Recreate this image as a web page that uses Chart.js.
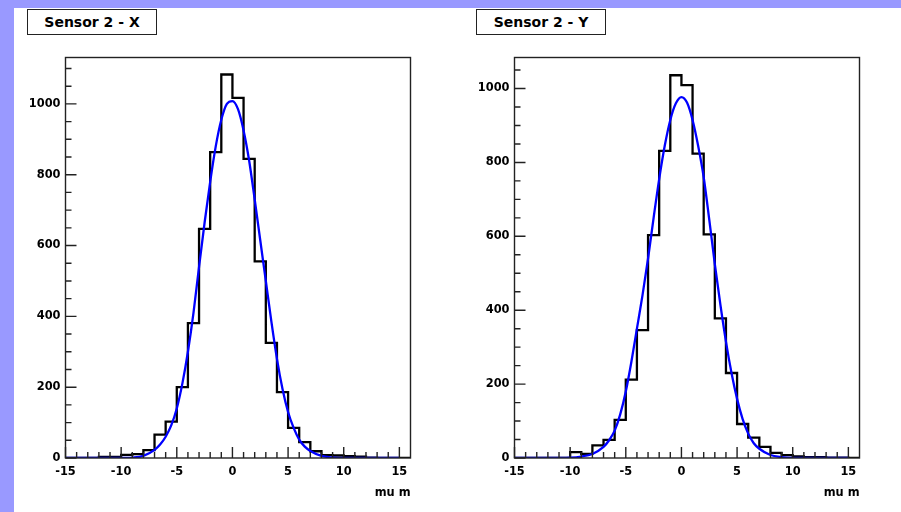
<!DOCTYPE html>
<html>
<head>
<meta charset="utf-8">
<script src="https://cdn.jsdelivr.net/npm/chart.js@4.4.1/dist/chart.umd.min.js"></script>
<style>
  html, body { margin: 0; padding: 0; }
  body { width: 901px; height: 512px; background: #9999ff; position: relative; overflow: hidden; }
  #sheet { position: absolute; left: 14px; top: 8px; right: 0; bottom: 0; background: #fff; }
  canvas { position: absolute; top: 0; }
  .tag {
    position: absolute; top: 9px; width: 128px; height: 24px;
    border: 1px solid #222; background: #fff;
    font: bold 14px 'DejaVu Sans', sans-serif; color: #000;
    text-align: center; line-height: 24px;
  }
</style>
</head>
<body>
<div id="sheet"></div>
<canvas id="sensorX" width="450" height="512" style="left:0px"></canvas>
<canvas id="sensorY" width="450" height="512" style="left:449px"></canvas>
<div class="tag" style="left:27px">Sensor 2 - X</div>
<div class="tag" style="left:476px">Sensor 2 - Y</div>
<script>
// left edge of each 1 mu m bin
const binStart = [-15,-14,-13,-12,-11,-10,-9,-8,-7,-6,-5,-4,-3,-2,-1,0,1,2,3,4,5,6,7,8,9,10,11,12,13,14,15]
const binEnd = 16

// counts
const countsX = [0,0,0,3,3,9,11,22,66,103,200,381,647,864,1083,1017,845,555,325,186,85,45,19,8,7,5,4,1,0,0,0]
const countsY = [0,0,0,0,0,16,11,34,49,103,212,346,603,831,1036,1009,824,605,378,230,92,55,30,14,8,4,2,2,1,1,0]

// gaussian fit curves
const fitPos = [-15,-12,-10,-9,-8,-7,-6.5,-6,-5.5,-5,-4.5,-4,-3.5,-3,-2.5,-2,-1.5,-1,-0.5,0,0.5,1,1.5,2,2.5,3,3.5,4,4.5,5,5.5,6,6.5,7,8,9,10,12,15]
const fitX = [0,0,0,1,6,23,38,60,92,140,210,300,410,540,665,780,880,955,1000,1008,985,925,840,730,615,500,385,280,195,130,85,52,32,20,6,1.5,0,0,0]
const fitY = [0,0,1,4,11,30,48,74,118,180,260,350,440,540,650,755,845,915,960,977,962,915,845,760,645,525,415,315,230,160,105,66,40,25,8,2.5,0.5,0,0]

const xTicks = [-15,-10,-5,0,5,10,15]
const yMaxX = 1131
const yMaxY = 1084

Chart.defaults.font.family = "'DejaVu Sans', sans-serif"
Chart.defaults.font.weight = 'bold'
Chart.defaults.font.size = 11.4
Chart.defaults.color = '#000'

// ROOT style frame with ticks pointing inwards
const frameTicks = {
  id: 'frameTicks',
  afterDatasetsDraw(chart) {
    const { ctx, chartArea: a, scales: { x, y } } = chart
    ctx.save()
    ctx.strokeStyle = '#222'
    ctx.lineWidth = 1.4
    ctx.beginPath()
    for (let v = -15; v <= 15; v++) {
      const px = x.getPixelForValue(v)
      const len = v % 5 === 0 ? 11 : 6
      ctx.moveTo(px, a.bottom)
      ctx.lineTo(px, a.bottom - len)
    }
    for (let v = 0; v <= y.max; v += 50) {
      const py = y.getPixelForValue(v)
      const len = v % 200 === 0 ? 11 : 6
      ctx.moveTo(a.left, py)
      ctx.lineTo(a.left + len, py)
    }
    ctx.stroke()
    ctx.strokeRect(a.left, a.top, a.right - a.left, a.bottom - a.top)
    ctx.restore()
  }
}

function histPoints(counts) {
  const pts = binStart.map((b, i) => ({ x: b, y: counts[i] }))
  pts.push({ x: binEnd, y: counts[counts.length - 1] })
  return pts
}

function makeChart(id, counts, fit, yMax) {
  return new Chart(id, {
    type: 'line',
    data: {
      datasets: [
        {
          label: 'fit',
          data: fitPos.map((p, i) => ({ x: p, y: fit[i] })),
          borderColor: '#0000ff',
          borderWidth: 2.3,
          pointRadius: 0,
          cubicInterpolationMode: 'monotone',
          order: 1
        },
        {
          label: 'hist',
          data: histPoints(counts),
          borderColor: '#000',
          borderWidth: 2.3,
          pointRadius: 0,
          stepped: 'before',
          order: 2
        }
      ]
    },
    options: {
      responsive: false,
      animation: false,
      layout: { padding: { left: 15.5, top: 57.5, right: 39.5, bottom: 0 } },
      plugins: { legend: { display: false }, tooltip: { enabled: false } },
      scales: {
        x: {
          type: 'linear',
          min: -15,
          max: binEnd,
          grid: { display: false, drawTicks: false, tickLength: 0 },
          border: { display: false },
          afterBuildTicks: (scale) => { scale.ticks = xTicks.map(v => ({ value: v })) },
          afterFit: (scale) => { scale.height = 54 },
          ticks: { padding: 7, maxRotation: 0, callback: v => String(v) },
          title: { display: true, text: 'mu m', align: 'end', padding: { top: 0, bottom: 12 } }
        },
        y: {
          min: 0,
          max: yMax,
          grid: { display: false, drawTicks: false, tickLength: 0 },
          border: { display: false },
          afterFit: (scale) => { scale.width = 50 },
          ticks: { stepSize: 200, includeBounds: false, padding: 5, callback: v => String(v) }
        }
      }
    },
    plugins: [frameTicks]
  })
}

makeChart('sensorX', countsX, fitX, yMaxX)
makeChart('sensorY', countsY, fitY, yMaxY)
</script>
</body>
</html>
